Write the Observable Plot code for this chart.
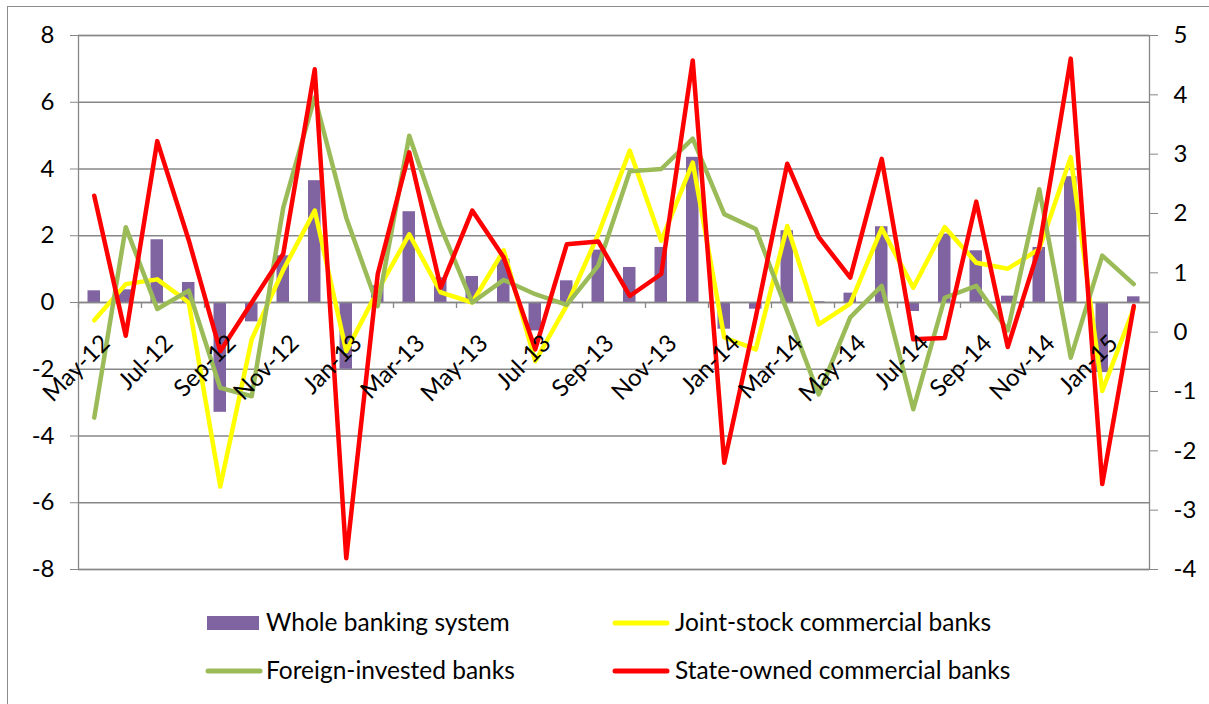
<!DOCTYPE html>
<html><head><meta charset="utf-8">
<script src="https://cdn.jsdelivr.net/npm/d3@7"></script>
<script src="https://cdn.jsdelivr.net/npm/@observablehq/plot@0.6"></script>
<style>
body{margin:0;background:#fff;font-family:Lato,sans-serif;}
#wrap{position:relative;width:1209px;height:704px;overflow:hidden;background:#fff}
#frame{position:absolute;left:7px;top:6px;width:1300px;height:800px;border:1px solid #8c8c8c;box-sizing:border-box}
#chart{position:absolute;left:0;top:0}
#legend{position:absolute;left:0;top:590px}
</style></head><body>
<div id="wrap"><div id="frame"></div><div id="chart"></div><div id="legend"></div></div>
<script>
const months = ["May-12","Jun-12","Jul-12","Aug-12","Sep-12","Oct-12","Nov-12","Dec-12",
  "Jan-13","Feb-13","Mar-13","Apr-13","May-13","Jun-13","Jul-13","Aug-13","Sep-13","Oct-13","Nov-13","Dec-13",
  "Jan-14","Feb-14","Mar-14","Apr-14","May-14","Jun-14","Jul-14","Aug-14","Sep-14","Oct-14","Nov-14","Dec-14",
  "Jan-15","Feb-15"];
const axisLabels = months.filter((d, i) => i % 2 === 0);

// Whole banking system (left axis)
const whole = [0.35, 0.38, 1.88, 0.6, -3.29, -0.58, 1.4, 3.65, -2.0, 0.5, 2.72, 0.74, 0.78, 1.3, -0.85, 0.65,
  1.57, 1.05, 1.65, 4.35, -0.8, -0.2, 2.15, 0.02, 0.28, 2.27, -0.27, 2.05, 1.55, 0.19, 1.65, 3.77, -2.1, 0.17];
// Lines (right axis)
const joint = [0.2, 0.81, 0.89, 0.5, -2.6, -0.12, 1.05, 2.05, -0.32, 0.7, 1.65, 0.67, 0.5, 1.38, -0.49, 0.45,
  1.65, 3.06, 1.54, 2.86, -0.09, -0.29, 1.79, 0.13, 0.48, 1.75, 0.75, 1.77, 1.17, 1.07, 1.4, 2.95, -0.99, 0.4];
const foreign = [-1.44, 1.77, 0.39, 0.7, -0.94, -1.08, 2.1, 3.96, 1.93, 0.44, 3.31, 1.77, 0.5, 0.88, 0.64, 0.46,
  1.12, 2.71, 2.75, 3.26, 1.99, 1.74, 0.35, -1.05, 0.25, 0.78, -1.3, 0.58, 0.78, 0.03, 2.41, -0.43, 1.29, 0.81];
const state = [2.3, -0.06, 3.22, 1.55, -0.32, 0.5, 1.32, 4.43, -3.81, 0.98, 3.03, 0.75, 2.05, 1.26, -0.29, 1.48,
  1.53, 0.61, 0.98, 4.58, -2.2, 0.25, 2.84, 1.6, 0.92, 2.92, -0.12, -0.1, 2.2, -0.25, 1.43, 4.61, -2.56, 0.44];

const leftTicks = [-8, -6, -4, -2, 0, 2, 4, 6, 8];
const rightTicks = [-4, -3, -2, -1, 0, 1, 2, 3, 4, 5];
const seriesNames = ["Whole banking system", "Joint-stock commercial banks", "Foreign-invested banks", "State-owned commercial banks"];
const seriesColors = ["#8064A2", "#FFFF00", "#9BBB59", "#FF0000"];

const W = 1209, H = 590, ML = 78, MR = 60, MT = 35, MB = 21;
const leftDomain = [-8, 8], rightDomain = [-4, 5];
const toLeft = v => leftDomain[0] + (v - rightDomain[0]) * (leftDomain[1] - leftDomain[0]) / (rightDomain[1] - rightDomain[0]);
const fromLeft = y => rightDomain[0] + (y - leftDomain[0]) * (rightDomain[1] - rightDomain[0]) / (leftDomain[1] - leftDomain[0]);
const bw = (W - ML - MR) / months.length;
const grid = "#878787";

const table = months.map((m, i) => ({
  month: m, whole: whole[i], joint: toLeft(joint[i]), foreign: toLeft(foreign[i]), state: toLeft(state[i])
}));

const chart = Plot.plot({
  width: W, height: H, marginLeft: ML, marginRight: MR, marginTop: MT, marginBottom: MB,
  style: {fontFamily: "Lato, sans-serif", fontSize: "24px", color: "#000", background: "transparent", overflow: "visible"},
  x: {type: "band", domain: months, padding: 0, round: false, axis: null},
  y: {domain: leftDomain, axis: null},
  marks: [
    Plot.gridY(leftTicks, {stroke: grid, strokeOpacity: 1, strokeWidth: 1.3}),
    Plot.frame({stroke: grid, strokeWidth: 1.3}),
    Plot.barY(table, {x: "month", y: "whole", fill: seriesColors[0], insetLeft: 9.5, insetRight: 9.5}),
    Plot.ruleY([0], {stroke: grid, strokeWidth: 1.3}),
    Plot.ruleX(axisLabels, {x: d => d, y1: () => 0, y2: () => 0, insetBottom: -6, dx: -bw / 2, stroke: grid, strokeWidth: 1.3}),
    Plot.axisY(leftTicks, {anchor: "left", tickSize: 8, tickPadding: 16, fontSize: 24, stroke: grid, fill: "#000", tickFormat: d => String(d)}),
    Plot.axisY(rightTicks.map(toLeft), {anchor: "right", tickSize: 8, tickPadding: 16, fontSize: 24, stroke: grid, fill: "#000", tickFormat: d => String(Math.round(fromLeft(d)))}),
    Plot.lineY(table, {x: "month", y: "joint", stroke: seriesColors[1], strokeWidth: 4.5}),
    Plot.lineY(table, {x: "month", y: "foreign", stroke: seriesColors[2], strokeWidth: 4.5}),
    Plot.lineY(table, {x: "month", y: "state", stroke: seriesColors[3], strokeWidth: 4.5}),
    Plot.text(axisLabels, {x: d => d, y: () => 0, text: d => d, rotate: -45, textAnchor: "end", lineAnchor: "top", dx: 5, dy: 30, fontSize: 24, fill: "#000"})
  ]
});
document.getElementById("chart").appendChild(chart);

// Legend (below the SVG)
const legendLayout = [
  {sx: 207, cy: 33, tx: 266},
  {sx: 614, cy: 33, tx: 675},
  {sx: 207, cy: 81, tx: 266},
  {sx: 614, cy: 81, tx: 675}
];
const leg = d3.select("#legend").append("svg").attr("width", 1209).attr("height", 114)
  .style("font-family", "Lato, sans-serif");
seriesNames.forEach((name, i) => {
  const L = legendLayout[i];
  if (i === 0) {
    leg.append("rect").attr("x", L.sx).attr("y", L.cy - 7).attr("width", 52).attr("height", 14).attr("fill", seriesColors[i]);
  } else {
    leg.append("line").attr("x1", L.sx + 1).attr("x2", L.sx + 53).attr("y1", L.cy).attr("y2", L.cy)
      .attr("stroke", seriesColors[i]).attr("stroke-width", 5).attr("stroke-linecap", "round");
  }
  leg.append("text").attr("x", L.tx).attr("y", L.cy + 8).attr("font-size", 24.5).attr("fill", "#000").text(name);
});
</script>
</body></html>
